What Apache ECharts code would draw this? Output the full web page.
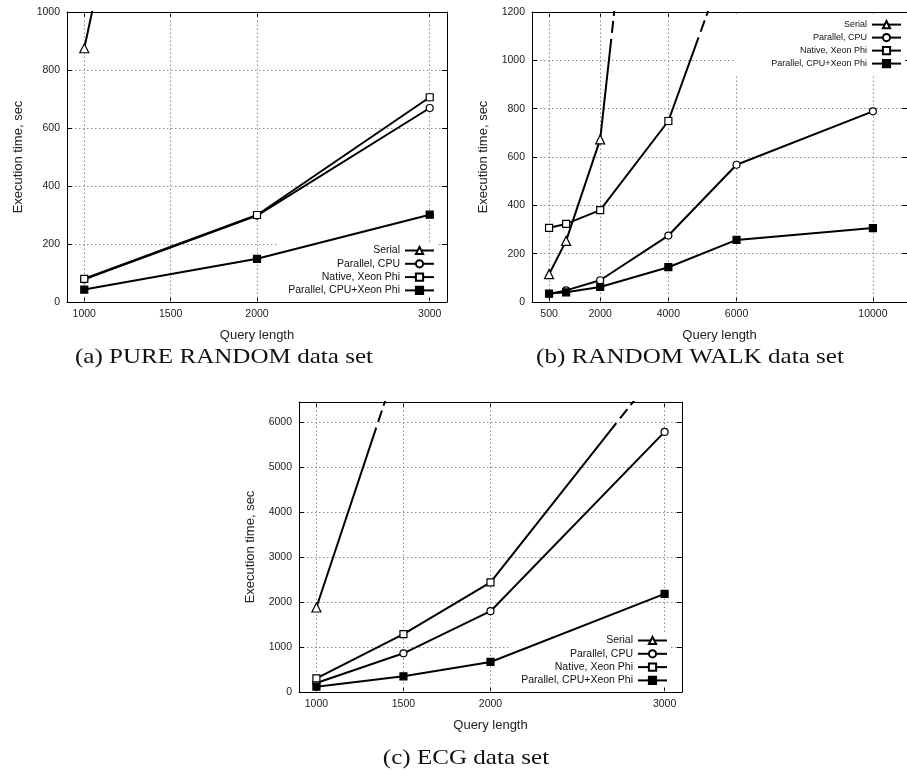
<!DOCTYPE html>
<html>
<head>
<meta charset="utf-8">
<script src="https://cdn.jsdelivr.net/npm/echarts@6/dist/echarts.min.js"></script>
<style>
  html, body { margin: 0; padding: 0; background: #fff; overflow: hidden; }
  #main { width: 907px; height: 777px; }
</style>
</head>
<body>
<div id="main"></div>
<script>
// execution time (sec)
const names = ['Serial', 'Parallel, CPU', 'Native, Xeon Phi', 'Parallel, CPU+Xeon Phi'];

// (a) PURE RANDOM
const lenA = [1000, 2000, 3000];
const serialA = [875, 3650, 7900];
const cpuA = [78, 298, 669];
const phiA = [80, 300, 706];
const hybridA = [43, 149, 301];
const xTicksA = [1000, 1500, 2000, 3000];

// (b) RANDOM WALK
const lenB = [500, 1000, 2000, 4000, 6000, 10000];
const serialB = [115, 253, 673, 3230, 7200, 20000];
const cpuB = [33, 48, 90, 275, 568, 789];
const phiB = [307, 323, 380, 749, 1530, 3600];
const hybridB = [35, 40, 62, 144, 257, 306];
const xTicksB = [500, 2000, 4000, 6000, 10000];

// (c) ECG
const lenC = [1000, 1500, 2000, 3000];
const serialC = [1879, 7700, 14000, 32000];
const cpuC = [200, 861, 1797, 5785];
const phiC = [304, 1285, 2436, 7340];
const hybridC = [119, 349, 668, 2183];
const xTicksC = [1000, 1500, 2000, 3000];

const captions = ['(a) PURE RANDOM data set', '(b) RANDOM WALK data set', '(c) ECG data set'];

const panels = [
  { id: 'a', grid: { left: 67, top: 12, width: 380, height: 290 }, xMin: 900, xMax: 3100, yMax: 1000, yStep: 200,
    ticks: xTicksA, xs: lenA, ys: [serialA, cpuA, phiA, hybridA],
    legend: { right: 470, top: 244, fontSize: 10.5, itemGap: 2.3, padding: [1, 2, 1, 10] } },
  { id: 'b', grid: { left: 532, top: 12, width: 382, height: 290 }, xMin: 0, xMax: 11000, yMax: 1200, yStep: 200,
    ticks: xTicksB, xs: lenB, ys: [serialB, cpuB, phiB, hybridB],
    legend: { right: 2, top: 14, fontSize: 9, itemGap: 3.8, padding: [6, 3, 6, 36] } },
  { id: 'c', grid: { left: 299, top: 402, width: 383, height: 290 }, xMin: 900, xMax: 3100, yMax: 6450, yStep: 1000,
    ticks: xTicksC, xs: lenC, ys: [serialC, cpuC, phiC, hybridC],
    legend: { right: 237, top: 634, fontSize: 10.5, itemGap: 2.3, padding: [1, 2, 1, 10] } }
];

const marks = [
  { symbol: 'triangle', size: 9, fill: '#fff' },
  { symbol: 'circle', size: 7, fill: '#fff' },
  { symbol: 'rect', size: 7, fill: '#fff' },
  { symbol: 'rect', size: 7, fill: '#000' }
];

const sans = 'Liberation Sans';
const gridLine = { color: '#8c8c8c', type: [1.5, 2.5], width: 1 };
const frame = { show: true, onZero: false, lineStyle: { color: '#000', width: 1 } };
const tick = { show: true, inside: true, length: 5, lineStyle: { color: '#000' } };
const plain = v => String(v);

const xAxes = [], yAxes = [], series = [];
panels.forEach((p, gi) => {
  xAxes.push({
    type: 'value', gridIndex: gi, position: 'bottom', min: p.xMin, max: p.xMax,
    axisLine: frame, axisTick: Object.assign({ customValues: p.ticks }, tick),
    axisLabel: { customValues: p.ticks, formatter: plain, fontSize: 10.5, color: '#222', margin: 7, fontFamily: sans },
    splitLine: { show: false },
    name: 'Query length', nameLocation: 'middle', nameGap: 27,
    nameTextStyle: { fontSize: 13, color: '#222', fontFamily: sans }
  });
  xAxes.push({
    type: 'value', gridIndex: gi, position: 'top', min: p.xMin, max: p.xMax,
    axisLine: frame, axisTick: Object.assign({ customValues: p.ticks }, tick),
    axisLabel: { show: false }, splitLine: { show: false }
  });
  yAxes.push({
    type: 'value', gridIndex: gi, position: 'left', min: 0, max: p.yMax, interval: p.yStep,
    axisLine: frame, axisTick: tick,
    axisLabel: { formatter: plain, fontSize: 10.5, color: '#222', margin: 7, fontFamily: sans,
      showMaxLabel: p.yMax % p.yStep === 0 },
    splitLine: { show: true, lineStyle: gridLine },
    name: 'Execution time, sec', nameLocation: 'middle', nameGap: 42,
    nameTextStyle: { fontSize: 13, color: '#222', fontFamily: sans }
  });
  yAxes.push({
    type: 'value', gridIndex: gi, position: 'right', min: 0, max: p.yMax, interval: p.yStep,
    axisLine: frame, axisTick: tick, axisLabel: { show: false }, splitLine: { show: false }
  });

  // vertical grid lines at the x ticks
  series.push({
    type: 'line', data: [], xAxisIndex: 2 * gi, yAxisIndex: 2 * gi, silent: true,
    markLine: {
      silent: true, symbol: 'none', z: 1, animation: false, label: { show: false },
      lineStyle: gridLine, data: p.ticks.map(v => ({ xAxis: v }))
    }
  });

  p.ys.forEach((ys, k) => {
    series.push({
      id: p.id + k, name: names[k], type: 'line', xAxisIndex: 2 * gi, yAxisIndex: 2 * gi,
      data: p.xs.map((x, i) => [x, ys[i]]),
      symbol: marks[k].symbol, symbolSize: marks[k].size, showAllSymbol: true, z: 3,
      lineStyle: { color: '#000', width: 2 },
      itemStyle: { color: marks[k].fill, borderColor: '#000', borderWidth: 1.2 },
      emphasis: { disabled: true }
    });
  });
});

const captionFont = '22px "Liberation Serif"';
const chart = echarts.init(document.getElementById('main'), null, { renderer: 'canvas' });
chart.setOption({
  animation: false,
  backgroundColor: '#fff',
  grid: panels.map(p => Object.assign({ containLabel: false }, p.grid)),
  xAxis: xAxes,
  yAxis: yAxes,
  // legend box hides the grid lines but sits under the curves
  legend: panels.map(p => ({
    data: names, orient: 'vertical', align: 'right', right: p.legend.right, top: p.legend.top, z: 2,
    itemWidth: 29, itemHeight: 9, itemGap: p.legend.itemGap, padding: p.legend.padding,
    backgroundColor: '#fff', selectedMode: false,
    textStyle: { fontSize: p.legend.fontSize, color: '#111', fontFamily: sans }
  })),
  graphic: [
    { type: 'text', x: 224, y: 357, scaleX: 1.14, style: { text: captions[0], font: captionFont, fill: '#111', align: 'center', verticalAlign: 'middle' } },
    { type: 'text', x: 690, y: 357, scaleX: 1.14, style: { text: captions[1], font: captionFont, fill: '#111', align: 'center', verticalAlign: 'middle' } },
    { type: 'text', x: 466, y: 758, scaleX: 1.14, style: { text: captions[2], font: captionFont, fill: '#111', align: 'center', verticalAlign: 'middle' } }
  ],
  series: series
});

// off-scale curves: solid line, then a short break just under the top frame
function breakDash(gi, xs, ys, yTop) {
  let len = 0;
  for (let i = 0; i < xs.length - 1; i++) {
    const p0 = chart.convertToPixel({ gridIndex: gi }, [xs[i], ys[i]]);
    const p1 = chart.convertToPixel({ gridIndex: gi }, [xs[i + 1], ys[i + 1]]);
    const seg = Math.hypot(p1[0] - p0[0], p1[1] - p0[1]);
    if (ys[i + 1] > yTop) {
      len += seg * (yTop - ys[i]) / (ys[i + 1] - ys[i]);
      return [len - 27, 6, 12, 5, 4000, 1];
    }
    len += seg;
  }
  return null;
}

chart.setOption({
  series: [
    { id: 'b0', lineStyle: { type: breakDash(1, lenB, serialB, 1200) } },
    { id: 'b2', lineStyle: { type: breakDash(1, lenB, phiB, 1200) } },
    { id: 'c0', lineStyle: { type: breakDash(2, lenC, serialC, 6450) } },
    { id: 'c2', lineStyle: { type: breakDash(2, lenC, phiC, 6450) } }
  ]
});
</script>
</body>
</html>
